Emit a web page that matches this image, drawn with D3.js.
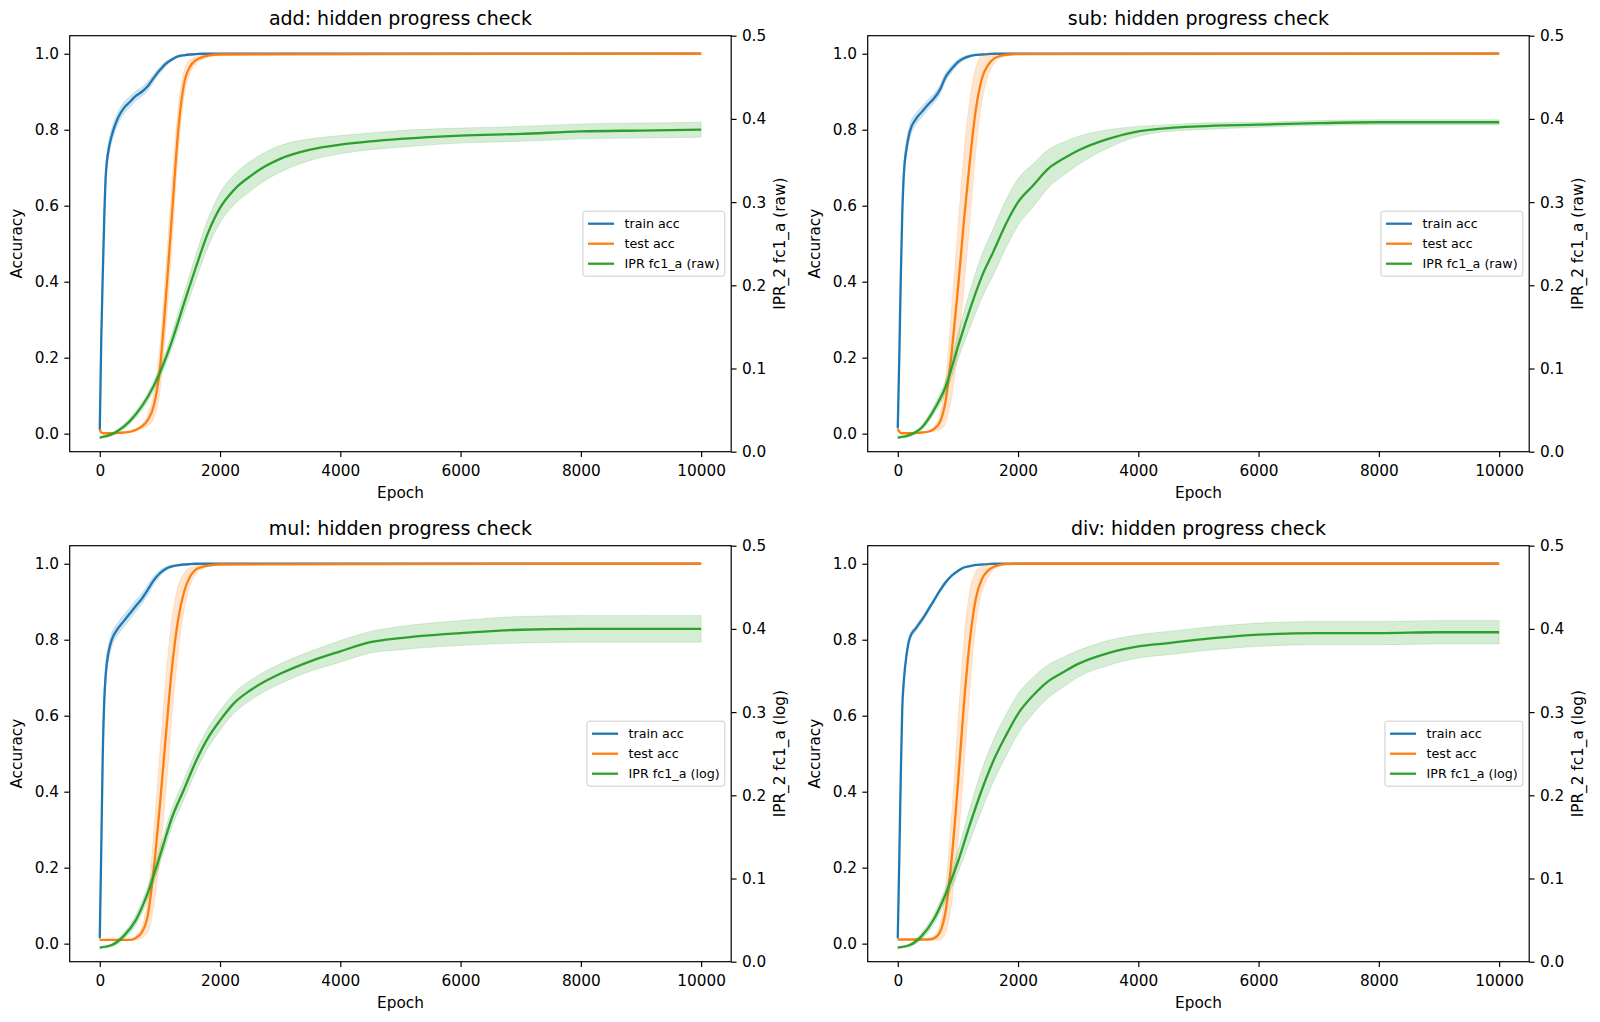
<!DOCTYPE html>
<html>
<head>
<meta charset="utf-8">
<script src="https://cdn.jsdelivr.net/npm/d3@7"></script>
<style>
  body { margin: 0; background: #fff; }
  svg { display: block; font-family: "DejaVu Sans", sans-serif; }
</style>
</head>
<body>
<div class="canvas"></div>
<script>
// epochs at which the accuracy curves were read
const accEpochs = [0, 25, 50, 75, 100, 150, 200, 300, 400, 500, 600, 700, 800, 900, 1000, 1100, 1200, 1300, 1400, 1500, 1600, 1700, 1800, 2000, 10000];
// epochs at which the IPR curves were read
const iprEpochs = [0, 200, 400, 600, 800, 1000, 1200, 1400, 1600, 1800, 2000, 2250, 2500, 2750, 3000, 3500, 4000, 4500, 5000, 6000, 7000, 8000, 9000, 10000];

const ops = ['add', 'sub', 'mul', 'div'];
const iprModes = ['raw', 'raw', 'log', 'log'];

// add
const trainAdd = [0.010, 0.25, 0.42, 0.57, 0.68, 0.75, 0.785, 0.83, 0.857, 0.873, 0.889, 0.90, 0.915, 0.937, 0.957, 0.974, 0.985, 0.993, 0.996, 0.998, 0.999, 1.0, 1.0, 1.0, 1.0];
const trainAddSd = [0, 0.02, 0.03, 0.03, 0.025, 0.02, 0.018, 0.015, 0.015, 0.014, 0.013, 0.012, 0.012, 0.010, 0.008, 0.006, 0.004, 0.003, 0.002, 0.001, 0, 0, 0, 0, 0];
const testAdd = [0.010, 0.003, 0.001, 0.001, 0.001, 0.001, 0.001, 0.002, 0.003, 0.005, 0.010, 0.019, 0.036, 0.075, 0.17, 0.36, 0.575, 0.79, 0.92, 0.966, 0.983, 0.991, 0.995, 0.998, 1.0];
const testAddSd = [0.001, 0.001, 0.001, 0.001, 0.001, 0.001, 0.001, 0.001, 0.001, 0.001, 0.003, 0.006, 0.015, 0.035, 0.06, 0.08, 0.085, 0.06, 0.035, 0.018, 0.010, 0.006, 0.004, 0.002, 0];
const iprAdd = [0.017, 0.021, 0.030, 0.045, 0.066, 0.095, 0.133, 0.178, 0.222, 0.263, 0.293, 0.316, 0.331, 0.343, 0.352, 0.363, 0.369, 0.373, 0.376, 0.380, 0.382, 0.385, 0.386, 0.387];
const iprAddSd = [0.001, 0.002, 0.003, 0.004, 0.005, 0.006, 0.009, 0.012, 0.015, 0.017, 0.018, 0.018, 0.018, 0.017, 0.016, 0.013, 0.011, 0.010, 0.010, 0.009, 0.009, 0.009, 0.009, 0.009];

// sub
const trainSub = [0.014, 0.20, 0.41, 0.58, 0.68, 0.755, 0.795, 0.828, 0.847, 0.866, 0.882, 0.905, 0.94, 0.961, 0.978, 0.988, 0.994, 0.997, 0.998, 0.999, 1.0, 1.0, 1.0, 1.0, 1.0];
const trainSubSd = [0, 0.02, 0.03, 0.03, 0.025, 0.02, 0.018, 0.015, 0.014, 0.013, 0.012, 0.012, 0.011, 0.009, 0.007, 0.005, 0.003, 0.002, 0.001, 0.001, 0, 0, 0, 0, 0];
const testSub = [0.012, 0.005, 0.002, 0.001, 0.001, 0.001, 0.001, 0.002, 0.003, 0.005, 0.012, 0.030, 0.09, 0.22, 0.38, 0.56, 0.72, 0.855, 0.935, 0.970, 0.987, 0.994, 0.997, 0.999, 1.0];
const testSubSd = [0.001, 0.001, 0.001, 0.001, 0.001, 0.001, 0.001, 0.001, 0.001, 0.001, 0.006, 0.02, 0.06, 0.12, 0.16, 0.18, 0.16, 0.11, 0.06, 0.03, 0.013, 0.006, 0.003, 0.001, 0];
const iprSub = [0.017, 0.020, 0.029, 0.050, 0.079, 0.126, 0.171, 0.211, 0.242, 0.274, 0.300, 0.320, 0.340, 0.352, 0.362, 0.376, 0.385, 0.389, 0.391, 0.393, 0.395, 0.396, 0.396, 0.396];
const iprSubSd = [0.001, 0.002, 0.003, 0.005, 0.008, 0.015, 0.022, 0.026, 0.028, 0.029, 0.028, 0.026, 0.023, 0.020, 0.017, 0.011, 0.006, 0.004, 0.004, 0.003, 0.003, 0.003, 0.003, 0.003];

// mul
const trainMul = [0.014, 0.25, 0.50, 0.64, 0.71, 0.77, 0.80, 0.829, 0.849, 0.869, 0.889, 0.908, 0.932, 0.957, 0.975, 0.987, 0.993, 0.996, 0.998, 0.999, 1.0, 1.0, 1.0, 1.0, 1.0];
const trainMulSd = [0, 0.02, 0.03, 0.03, 0.025, 0.02, 0.018, 0.016, 0.016, 0.015, 0.015, 0.014, 0.013, 0.011, 0.008, 0.005, 0.003, 0.002, 0.001, 0.001, 0, 0, 0, 0, 0];
const testMul = [0.010, 0.010, 0.010, 0.010, 0.010, 0.010, 0.010, 0.010, 0.010, 0.010, 0.015, 0.030, 0.075, 0.20, 0.365, 0.55, 0.725, 0.85, 0.925, 0.966, 0.985, 0.992, 0.995, 0.998, 1.0];
const testMulSd = [0.001, 0.001, 0.001, 0.001, 0.001, 0.001, 0.001, 0.001, 0.001, 0.001, 0.005, 0.015, 0.045, 0.10, 0.14, 0.15, 0.13, 0.09, 0.05, 0.025, 0.012, 0.006, 0.003, 0.001, 0];
const iprMul = [0.017, 0.020, 0.031, 0.050, 0.083, 0.127, 0.173, 0.207, 0.241, 0.269, 0.290, 0.312, 0.326, 0.337, 0.346, 0.361, 0.373, 0.384, 0.389, 0.395, 0.399, 0.400, 0.400, 0.400];
const iprMulSd = [0.001, 0.002, 0.004, 0.006, 0.008, 0.010, 0.011, 0.012, 0.012, 0.012, 0.012, 0.012, 0.012, 0.012, 0.012, 0.012, 0.013, 0.013, 0.014, 0.015, 0.016, 0.016, 0.016, 0.016];

// div
const trainDiv = [0.014, 0.22, 0.44, 0.62, 0.69, 0.765, 0.805, 0.83, 0.852, 0.877, 0.903, 0.929, 0.952, 0.969, 0.981, 0.990, 0.994, 0.997, 0.998, 0.999, 1.0, 1.0, 1.0, 1.0, 1.0];
const trainDivSd = [0, 0.01, 0.015, 0.015, 0.012, 0.01, 0.008, 0.007, 0.007, 0.006, 0.006, 0.005, 0.005, 0.004, 0.003, 0.002, 0.001, 0.001, 0, 0, 0, 0, 0, 0, 0];
const testDiv = [0.011, 0.011, 0.011, 0.011, 0.011, 0.011, 0.011, 0.011, 0.011, 0.011, 0.014, 0.030, 0.09, 0.23, 0.42, 0.63, 0.80, 0.91, 0.96, 0.982, 0.992, 0.997, 0.999, 1.0, 1.0];
const testDivSd = [0.001, 0.001, 0.001, 0.001, 0.001, 0.001, 0.001, 0.001, 0.001, 0.001, 0.006, 0.02, 0.06, 0.12, 0.16, 0.17, 0.13, 0.07, 0.035, 0.018, 0.008, 0.003, 0.001, 0, 0];
const iprDiv = [0.017, 0.020, 0.031, 0.051, 0.082, 0.120, 0.165, 0.207, 0.243, 0.272, 0.298, 0.320, 0.337, 0.348, 0.358, 0.371, 0.379, 0.383, 0.387, 0.393, 0.395, 0.395, 0.396, 0.396];
const iprDivSd = [0.001, 0.002, 0.004, 0.006, 0.008, 0.013, 0.020, 0.024, 0.025, 0.025, 0.024, 0.022, 0.020, 0.018, 0.016, 0.015, 0.014, 0.014, 0.014, 0.014, 0.014, 0.014, 0.014, 0.014];

const xTicks = [0, 2000, 4000, 6000, 8000, 10000];
const accTicks = [0, 0.2, 0.4, 0.6, 0.8, 1.0];
const iprTicks = [0, 0.1, 0.2, 0.3, 0.4, 0.5];

const panels = [
    { train: trainAdd, trainSd: trainAddSd, test: testAdd, testSd: testAddSd, ipr: iprAdd, iprSd: iprAddSd },
    { train: trainSub, trainSd: trainSubSd, test: testSub, testSd: testSubSd, ipr: iprSub, iprSd: iprSubSd },
    { train: trainMul, trainSd: trainMulSd, test: testMul, testSd: testMulSd, ipr: iprMul, iprSd: iprMulSd },
    { train: trainDiv, trainSd: trainDivSd, test: testDiv, testSd: testDivSd, ipr: iprDiv, iprSd: iprDivSd }
];

const colors = { train: '#1f77b4', test: '#ff7f0e', ipr: '#2ca02c' };
const dims = { width: 1600, height: 1022 };
const cols = [69.7, 867.7];
const rows = [35.7, 545.7];
const plotW = 661.5, plotH = 416;
const tickFont = 15.3, titleFont = 19, legendFont = 12.7;
const tickLen = 5.35;

const svg = d3.select('.canvas')
    .append('svg')
    .attr('width', dims.width)
    .attr('height', dims.height);

const drawPanel = (index) => {
    const p = panels[index];
    const left = cols[index % 2], top = rows[Math.floor(index / 2)];
    const g = svg.append('g').attr('transform', `translate(${left}, ${top})`);

    const x = d3.scaleLinear().domain([-500, 10500]).range([0, plotW]);
    const yAcc = d3.scaleLinear().domain([-0.0475, 1.0475]).range([plotH, 0]);
    const yIpr = d3.scaleLinear().domain([0, 0.5]).range([plotH, 0]);

    // series built from the arrays above
    const series = [
        { key: 'train', epochs: accEpochs, mean: p.train, sd: p.trainSd, y: yAcc },
        { key: 'test', epochs: accEpochs, mean: p.test, sd: p.testSd, y: yAcc },
        { key: 'ipr', epochs: iprEpochs, mean: p.ipr, sd: p.iprSd, y: yIpr }
    ];

    series.forEach(s => {
        const rowsData = s.epochs.map((e, i) => ({ e, m: s.mean[i], sd: s.sd[i] }));
        const area = d3.area()
            .x(d => x(d.e))
            .y0(d => s.y(d.m - d.sd))
            .y1(d => s.y(d.m + d.sd))
            .curve(d3.curveMonotoneX);
        const line = d3.line()
            .x(d => x(d.e))
            .y(d => s.y(d.m))
            .curve(d3.curveMonotoneX);

        g.append('path')
            .datum(rowsData)
            .attr('d', area)
            .attr('fill', colors[s.key])
            .attr('fill-opacity', 0.2)
            .attr('stroke', colors[s.key])
            .attr('stroke-opacity', 0.2)
            .attr('stroke-width', 0.8);

        g.append('path')
            .datum(rowsData)
            .attr('d', line)
            .attr('fill', 'none')
            .attr('stroke', colors[s.key])
            .attr('stroke-width', 2.3)
            .attr('stroke-linejoin', 'round');
    });

    // axes
    const styleAxis = sel => {
        sel.select('.domain').remove();
        sel.selectAll('line').attr('stroke', '#000').attr('stroke-width', 1.2);
        sel.selectAll('text').attr('fill', '#000').style('font-size', tickFont + 'px')
            .style('font-family', '"DejaVu Sans", sans-serif');
    };

    g.append('g')
        .attr('transform', `translate(0, ${plotH})`)
        .call(d3.axisBottom(x).tickValues(xTicks).tickFormat(d3.format('d')).tickSize(tickLen).tickPadding(8))
        .call(styleAxis);

    g.append('g')
        .call(d3.axisLeft(yAcc).tickValues(accTicks).tickFormat(d3.format('.1f')).tickSize(tickLen).tickPadding(tickLen))
        .call(styleAxis);

    g.append('g')
        .attr('transform', `translate(${plotW}, 0)`)
        .call(d3.axisRight(yIpr).tickValues(iprTicks).tickFormat(d3.format('.1f')).tickSize(tickLen).tickPadding(tickLen))
        .call(styleAxis);

    // frame
    g.append('rect')
        .attr('width', plotW)
        .attr('height', plotH)
        .attr('fill', 'none')
        .attr('stroke', '#000')
        .attr('stroke-width', 1.2);

    // labels
    g.append('text')
        .attr('x', plotW / 2)
        .attr('y', -10.6)
        .attr('text-anchor', 'middle')
        .style('font-size', titleFont + 'px')
        .text(`${ops[index]}: hidden progress check`);

    g.append('text')
        .attr('x', plotW / 2)
        .attr('y', plotH + 46)
        .attr('text-anchor', 'middle')
        .style('font-size', tickFont + 'px')
        .text('Epoch');

    g.append('text')
        .attr('transform', `translate(-52.4, ${plotH / 2}) rotate(-90)`)
        .attr('text-anchor', 'middle')
        .attr('dominant-baseline', 'central')
        .style('font-size', tickFont + 'px')
        .text('Accuracy');

    g.append('text')
        .attr('transform', `translate(${plotW + 48.9}, ${plotH / 2}) rotate(-90)`)
        .attr('text-anchor', 'middle')
        .attr('dominant-baseline', 'central')
        .style('font-size', tickFont + 'px')
        .text(`IPR_2 fc1_a (${iprModes[index]})`);

    // legend (center right)
    const labels = ['train acc', 'test acc', `IPR fc1_a (${iprModes[index]})`];
    const legend = g.append('g');
    const box = legend.append('rect');
    const items = legend.selectAll('g.item')
        .data(labels)
        .enter()
        .append('g')
        .attr('class', 'item')
        .attr('transform', (d, i) => `translate(0, ${i * 20})`);
    items.append('line')
        .attr('x1', 0).attr('x2', 26)
        .attr('stroke', (d, i) => colors[['train', 'test', 'ipr'][i]])
        .attr('stroke-width', 2.3);
    const texts = items.append('text')
        .attr('x', 36.5)
        .attr('dominant-baseline', 'central')
        .style('font-size', legendFont + 'px')
        .text(d => d);

    let maxLen = 0;
    texts.each(function () { maxLen = Math.max(maxLen, this.getComputedTextLength()); });
    const pad = 5.1;
    const boxW = 36.5 + maxLen + pad * 2, boxH = 65;
    const boxX = plotW - 6.4 - boxW, boxY = plotH / 2 - boxH / 2;
    box.attr('x', -pad).attr('y', -12.5)
        .attr('width', boxW).attr('height', boxH)
        .attr('rx', 2.5)
        .attr('fill', '#fff').attr('fill-opacity', 0.8)
        .attr('stroke', '#cccccc').attr('stroke-width', 1);
    legend.attr('transform', `translate(${boxX + pad}, ${boxY + 12.5})`);
};

panels.forEach((p, i) => drawPanel(i));
</script>
</body>
</html>
